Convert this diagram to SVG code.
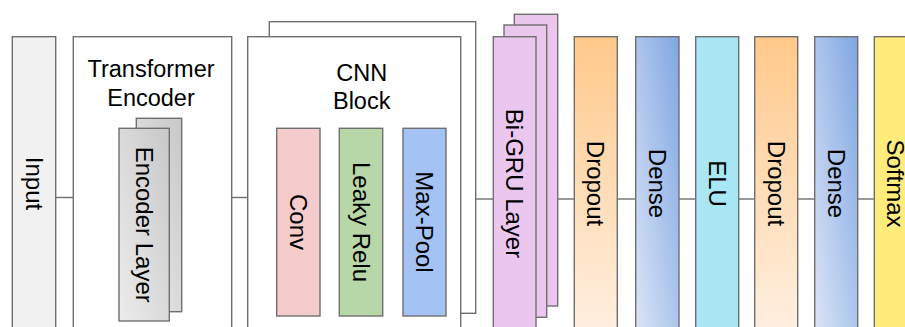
<svg xmlns="http://www.w3.org/2000/svg" width="905" height="327" viewBox="0 0 905 327">
<defs>
<linearGradient id="gDrop" x1="0" y1="0" x2="0" y2="1">
<stop offset="0" stop-color="#ffc98a"/>
<stop offset="1" stop-color="#fff0e2"/>
</linearGradient>
<linearGradient id="gDense" x1="0" y1="1" x2="1" y2="0">
<stop offset="0" stop-color="#dce5f7"/>
<stop offset="1" stop-color="#7fa6e3"/>
</linearGradient>
<linearGradient id="gEnc" x1="1" y1="0" x2="0" y2="1">
<stop offset="0" stop-color="#c8c8c8"/>
<stop offset="1" stop-color="#ececec"/>
</linearGradient>
</defs>
<style>
.b{stroke:#6f6f6f;stroke-width:1.4}
.t{font-family:"Liberation Sans",Arial,sans-serif;font-size:24px;fill:#000;text-anchor:middle;dominant-baseline:central}
.h{font-family:"Liberation Sans",Arial,sans-serif;font-size:23.5px;fill:#000;text-anchor:middle}
.c{stroke:#6f6f6f;stroke-width:1.4;fill:none}
</style>
<rect width="905" height="327" fill="#fff"/>
<g id="connectors">
<line class="c" x1="55.7" y1="197.5" x2="73.3" y2="197.5"/>
<line class="c" x1="231.7" y1="197.5" x2="247.7" y2="197.5"/>
<line class="c" x1="475.7" y1="199" x2="493.3" y2="199"/>
<line class="c" x1="557.7" y1="199" x2="574.3" y2="199"/>
<line class="c" x1="617.3" y1="199" x2="635.7" y2="199"/>
<line class="c" x1="679" y1="199" x2="695.7" y2="199"/>
<line class="c" x1="738.7" y1="199" x2="754.7" y2="199"/>
<line class="c" x1="797.7" y1="199" x2="814.7" y2="199"/>
<line class="c" x1="857.7" y1="199" x2="874.3" y2="199"/>
</g>
<g id="input">
<rect class="b" x="12.3" y="36.7" width="43.4" height="300" fill="#f1f1f1"/>
<text class="t" transform="translate(34,183.5) rotate(90)">Input</text>
</g>
<g id="transformer">
<rect class="b" x="73.3" y="36.7" width="158.4" height="300" fill="#fff"/>
<text class="h" x="151" y="77">Transformer</text>
<text class="h" x="151" y="106">Encoder</text>
<g id="encoder-layer">
<rect class="b" x="136.3" y="118.3" width="45.4" height="193.4" fill="url(#gEnc)"/>
<rect class="b" x="119" y="128.3" width="50.3" height="192.7" fill="url(#gEnc)"/>
<text class="t" transform="translate(144.5,224.7) rotate(90)">Encoder Layer</text>
</g>
</g>
<g id="cnn">
<rect class="b" x="269.3" y="21.7" width="206.4" height="291.6" fill="#fff"/>
<rect class="b" x="247.7" y="36.7" width="213" height="300" fill="#fff"/>
<text class="h" x="361.7" y="81">CNN</text>
<text class="h" x="361.7" y="109">Block</text>
<g id="conv">
<rect class="b" x="276.7" y="128.3" width="43.3" height="187.7" fill="#f4cccc"/>
<text class="t" transform="translate(298.3,222) rotate(90)">Conv</text>
</g>
<g id="leaky">
<rect class="b" x="339.3" y="128.3" width="43.4" height="187.7" fill="#b7d7a8"/>
<text class="t" transform="translate(361,222) rotate(90)">Leaky Relu</text>
</g>
<g id="maxpool">
<rect class="b" x="403" y="128.3" width="43" height="187.7" fill="#a4c2f4"/>
<text class="t" transform="translate(424.5,222) rotate(90)">Max-Pool</text>
</g>
</g>
<g id="bigru">
<rect class="b" x="514.3" y="14.3" width="43.4" height="291.7" fill="#ebc7f0"/>
<rect class="b" x="504" y="25" width="42.7" height="292.3" fill="#ebc7f0"/>
<rect class="b" x="493.3" y="36.7" width="42.7" height="300" fill="#ebc7f0"/>
<text class="t" transform="translate(514.7,183.5) rotate(90)">Bi-GRU Layer</text>
</g>
<g id="dropout1">
<rect class="b" x="574.3" y="36.7" width="43" height="300" fill="url(#gDrop)"/>
<text class="t" transform="translate(595.8,183.5) rotate(90)">Dropout</text>
</g>
<g id="dense1">
<rect class="b" x="635.7" y="36.7" width="43.3" height="300" fill="url(#gDense)"/>
<text class="t" transform="translate(657.3,183.5) rotate(90)">Dense</text>
</g>
<g id="elu">
<rect class="b" x="695.7" y="36.7" width="43" height="300" fill="#a9e7f4"/>
<text class="t" transform="translate(717.2,183.5) rotate(90)">ELU</text>
</g>
<g id="dropout2">
<rect class="b" x="754.7" y="36.7" width="43" height="300" fill="url(#gDrop)"/>
<text class="t" transform="translate(776.2,183.5) rotate(90)">Dropout</text>
</g>
<g id="dense2">
<rect class="b" x="814.7" y="36.7" width="43" height="300" fill="url(#gDense)"/>
<text class="t" transform="translate(836.2,183.5) rotate(90)">Dense</text>
</g>
<g id="softmax">
<rect class="b" x="874.3" y="36.7" width="43" height="300" fill="#ffec7a"/>
<text class="t" transform="translate(895.8,183.5) rotate(90)">Softmax</text>
</g>
</svg>
